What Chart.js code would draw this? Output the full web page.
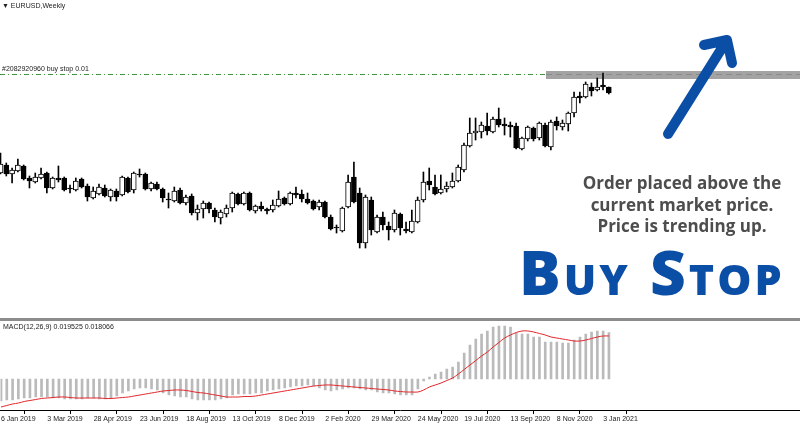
<!DOCTYPE html>
<html><head><meta charset="utf-8">
<script src="https://cdn.jsdelivr.net/npm/chart.js@4.4.1/dist/chart.umd.min.js"></script>
<style>
html,body{margin:0;padding:0;background:#fff;width:800px;height:427px;overflow:hidden;position:relative;font-family:"Liberation Sans",Arial,sans-serif;}
canvas{position:absolute;left:0;}
#pc{top:0;}
#mc{top:322px;}
.sep{position:absolute;left:0;top:318px;width:800px;height:3px;background:#8c8c8c;}
.small{position:absolute;font-size:7px;color:#222;white-space:nowrap;line-height:8px;font-family:"Liberation Sans",Arial,sans-serif;}
#desc{position:absolute;left:562px;top:172px;width:240px;text-align:center;font-family:"Open Sans",sans-serif;font-weight:700;font-size:17px;line-height:21.5px;color:#4d4d4d;white-space:nowrap;}
#big{position:absolute;left:519px;top:240px;font-family:"Open Sans",sans-serif;font-weight:800;font-size:62px;line-height:62px;letter-spacing:3px;color:#0b4ea5;font-variant:small-caps;white-space:nowrap;}
svg{position:absolute;left:0;top:0;}
</style></head>
<body>
<canvas id="pc" width="800" height="318"></canvas>
<div class="sep"></div>
<canvas id="mc" width="800" height="105"></canvas>
<div class="small" style="left:2px;top:2px;">&#9660; EURUSD,Weekly</div>
<div class="small" style="left:2px;top:65px;">#2082920960 buy stop 0.01</div>
<div class="small" style="left:3px;top:323px;">MACD(12,26,9) 0.019525 0.018066</div>
<div id="desc">Order placed above the<br>current market price.<br>Price is trending up.</div>
<div id="big">Buy Stop</div>
<svg width="800" height="427"><path d="M668 134 L727 40 M704 45 L727 40 L732 63" stroke="#0b4ea5" stroke-width="10" stroke-linecap="round" stroke-linejoin="round" fill="none"/></svg>
<script>
// Weekly EURUSD candles, 6 Jan 2019 .. 10 Jan 2021
const open  = [1.139,1.147,1.138,1.141,1.146,1.134,1.130,1.134,1.139,1.124,1.134,1.134,1.124,1.122,1.133,1.126,1.114,1.118,1.124,1.115,1.121,1.117,1.134,1.122,1.138,1.138,1.123,1.128,1.123,1.113,1.111,1.122,1.109,1.116,1.099,1.103,1.109,1.102,1.094,1.098,1.104,1.118,1.108,1.119,1.101,1.106,1.103,1.102,1.106,1.114,1.108,1.119,1.118,1.113,1.111,1.105,1.110,1.095,1.085,1.081,1.105,1.135,1.119,1.069,1.112,1.080,1.095,1.086,1.082,1.098,1.083,1.080,1.090,1.112,1.131,1.125,1.119,1.123,1.125,1.131,1.142,1.166,1.179,1.180,1.186,1.180,1.193,1.188,1.187,1.186,1.163,1.173,1.184,1.174,1.187,1.165,1.191,1.185,1.188,1.199,1.216,1.215,1.225,1.222,1.227,1.225];
const high  = [1.159,1.149,1.144,1.153,1.147,1.136,1.139,1.144,1.140,1.135,1.146,1.135,1.127,1.134,1.134,1.128,1.125,1.128,1.127,1.123,1.123,1.136,1.135,1.140,1.143,1.139,1.130,1.130,1.124,1.119,1.125,1.124,1.117,1.118,1.107,1.111,1.110,1.104,1.102,1.107,1.120,1.119,1.120,1.120,1.107,1.110,1.104,1.112,1.121,1.115,1.120,1.125,1.122,1.119,1.112,1.112,1.111,1.097,1.087,1.105,1.137,1.150,1.124,1.117,1.115,1.097,1.100,1.090,1.102,1.099,1.090,1.102,1.115,1.140,1.144,1.137,1.137,1.130,1.139,1.147,1.169,1.194,1.194,1.190,1.199,1.195,1.204,1.194,1.190,1.189,1.175,1.186,1.185,1.190,1.189,1.192,1.195,1.192,1.200,1.220,1.220,1.230,1.229,1.234,1.239,1.225];
const low   = [1.138,1.136,1.129,1.140,1.132,1.124,1.129,1.133,1.119,1.123,1.130,1.121,1.119,1.121,1.124,1.111,1.113,1.117,1.115,1.111,1.111,1.116,1.119,1.119,1.135,1.122,1.121,1.122,1.110,1.104,1.110,1.108,1.107,1.097,1.092,1.094,1.099,1.090,1.088,1.095,1.100,1.107,1.107,1.101,1.099,1.101,1.098,1.100,1.105,1.107,1.107,1.114,1.110,1.108,1.102,1.102,1.094,1.082,1.079,1.080,1.104,1.109,1.064,1.064,1.077,1.079,1.082,1.072,1.080,1.077,1.079,1.079,1.089,1.110,1.122,1.117,1.118,1.120,1.124,1.130,1.140,1.165,1.172,1.174,1.177,1.179,1.185,1.177,1.175,1.163,1.162,1.171,1.171,1.172,1.165,1.162,1.182,1.182,1.181,1.195,1.209,1.214,1.216,1.221,1.222,1.218];
const close = [1.148,1.138,1.142,1.147,1.133,1.131,1.135,1.138,1.124,1.134,1.132,1.122,1.123,1.131,1.125,1.115,1.121,1.125,1.116,1.122,1.115,1.135,1.120,1.139,1.137,1.123,1.129,1.123,1.114,1.112,1.121,1.109,1.115,1.099,1.103,1.109,1.103,1.095,1.100,1.104,1.119,1.108,1.119,1.102,1.106,1.103,1.101,1.107,1.113,1.108,1.119,1.117,1.113,1.109,1.103,1.110,1.095,1.083,1.084,1.104,1.130,1.110,1.069,1.115,1.082,1.095,1.087,1.082,1.099,1.084,1.081,1.091,1.112,1.130,1.127,1.118,1.123,1.126,1.131,1.145,1.167,1.179,1.181,1.187,1.181,1.193,1.187,1.186,1.185,1.164,1.174,1.185,1.173,1.189,1.166,1.190,1.186,1.189,1.199,1.215,1.214,1.228,1.221,1.225,1.225,1.219];
// MACD(12,26,9): histogram (main) and signal
const macdHist = [-0.00924,-0.00882,-0.00882,-0.0084,-0.00798,-0.00798,-0.00756,-0.00756,-0.00756,-0.00798,-0.00798,-0.0084,-0.0084,-0.0084,-0.0084,-0.00798,-0.00798,-0.0084,-0.0084,-0.00798,-0.00714,-0.00588,-0.00504,-0.0042,-0.00378,-0.00378,-0.0042,-0.00462,-0.00588,-0.00672,-0.00714,-0.00756,-0.00756,-0.0084,-0.00882,-0.00882,-0.00882,-0.00882,-0.0084,-0.00798,-0.00672,-0.0063,-0.0063,-0.0063,-0.00588,-0.00588,-0.00504,-0.00462,-0.0042,-0.00378,-0.00336,-0.00294,-0.00294,-0.00252,-0.00294,-0.00378,-0.00462,-0.00504,-0.00462,-0.0042,-0.00378,-0.00378,-0.0042,-0.00462,-0.00462,-0.00546,-0.00588,-0.00588,-0.0063,-0.00672,-0.00672,-0.00672,-0.0042,-0.00084,0.00084,0.0021,0.00294,0.0042,0.00504,0.00714,0.01092,0.01428,0.0168,0.0189,0.02016,0.02184,0.02226,0.02226,0.02184,0.01932,0.0189,0.0189,0.01764,0.01764,0.01554,0.01554,0.01554,0.01512,0.01512,0.01638,0.01764,0.0189,0.01974,0.02016,0.02016,0.019525];
const macdSignal = [-0.01176,-0.01113,-0.0105,-0.01008,-0.00945,-0.00903,-0.00861,-0.00819,-0.00798,-0.00777,-0.00756,-0.00756,-0.00777,-0.00798,-0.00798,-0.00798,-0.00798,-0.00798,-0.00819,-0.00819,-0.00798,-0.00777,-0.00756,-0.00714,-0.00672,-0.0063,-0.00588,-0.00546,-0.00504,-0.00483,-0.00462,-0.00462,-0.00483,-0.00525,-0.00567,-0.00588,-0.0063,-0.00672,-0.00714,-0.00756,-0.00756,-0.00756,-0.00735,-0.00735,-0.00714,-0.00672,-0.0063,-0.00588,-0.00546,-0.00504,-0.00462,-0.0042,-0.00378,-0.00336,-0.00294,-0.00273,-0.00252,-0.00252,-0.00273,-0.00294,-0.00315,-0.00336,-0.00357,-0.00378,-0.00399,-0.0042,-0.00441,-0.00462,-0.00504,-0.00525,-0.00546,-0.00546,-0.00546,-0.00462,-0.00336,-0.00252,-0.00168,-0.00063,0.00042,0.0021,0.00399,0.00588,0.00777,0.00966,0.01134,0.01344,0.01533,0.01722,0.01848,0.01953,0.02016,0.02016,0.01974,0.01911,0.01848,0.01764,0.01722,0.0168,0.01638,0.01596,0.01596,0.01638,0.01701,0.01764,0.01806,0.018066];
const tickLabels = ["6 Jan 2019","3 Mar 2019","28 Apr 2019","23 Jun 2019","18 Aug 2019","13 Oct 2019","8 Dec 2019","2 Feb 2020","29 Mar 2020","24 May 2020","19 Jul 2020","13 Sep 2020","8 Nov 2020","3 Jan 2021"];
const tickWeeks = [1,9,17,25,33,41,49,57,65,73,81,89,97,105];
const orderPrice = 1.238;

const weekNo = open.map((_, k) => k + 1);
const xMin = 0.914, xMax = 139.0;

const orderLine = {
  id: 'orderLine',
  beforeDatasetsDraw(chart) {
    const ctx = chart.ctx, y = Math.round(chart.scales.y.getPixelForValue(orderPrice)) + 0.5;
    const xs = 546;
    ctx.save();
    ctx.fillStyle = '#a3a3a3';
    ctx.fillRect(xs, y - 3.5, 800 - xs, 8);
    ctx.strokeStyle = '#8a8a8a'; ctx.lineWidth = 1; ctx.setLineDash([6, 4]);
    ctx.beginPath(); ctx.moveTo(xs, y); ctx.lineTo(800, y); ctx.stroke();
    ctx.strokeStyle = '#3c9a3c'; ctx.setLineDash([5, 3, 1, 3]);
    ctx.beginPath(); ctx.moveTo(0, y); ctx.lineTo(xs, y); ctx.stroke();
    ctx.restore();
  }
};

new Chart(document.getElementById('pc'), {
  type: 'bar',
  data: { datasets: [
    { data: weekNo.map((x, k) => ({ x, y: [low[k], high[k]] })), backgroundColor: '#000', barThickness: 1, grouped: false, order: 2 },
    { data: weekNo.map((x, k) => ({ x, y: [Math.min(open[k], close[k]), Math.max(open[k], close[k])] })),
      backgroundColor: weekNo.map((x, k) => close[k] >= open[k] ? '#fff' : '#000'),
      borderColor: '#000', borderWidth: 1, borderSkipped: false, barThickness: 5, grouped: false, order: 1 }
  ]},
  options: {
    responsive: false, animation: false, events: [],
    layout: { padding: 0, autoPadding: false },
    plugins: { legend: { display: false }, tooltip: { enabled: false } },
    scales: {
      x: { type: 'linear', min: xMin, max: xMax, offset: false, display: false },
      y: { type: 'linear', min: 0.994, max: 1.312, display: false }
    }
  },
  plugins: [orderLine]
});

new Chart(document.getElementById('mc'), {
  type: 'bar',
  data: { datasets: [
    { type: 'line', data: weekNo.map((x, k) => ({ x, y: macdSignal[k] })), borderColor: '#e3262a', borderWidth: 1, pointRadius: 0, tension: 0.4, order: 0 },
    { type: 'bar', data: weekNo.map((x, k) => ({ x, y: macdHist[k] })), backgroundColor: '#bababa', barThickness: 2, grouped: false, order: 1 }
  ]},
  options: {
    responsive: false, animation: false, events: [],
    layout: { padding: 0, autoPadding: false },
    plugins: { legend: { display: false }, tooltip: { enabled: false } },
    scales: {
      x: { type: 'linear', min: xMin, max: xMax, offset: false, position: 'bottom',
        afterBuildTicks: ax => { ax.ticks = tickWeeks.map(v => ({ value: v })); },
        afterFit: ax => { ax.height = 17; },
        ticks: { autoSkip: false, maxRotation: 0, minRotation: 0, align: 'start', padding: 1, color: '#222',
          font: { family: 'Liberation Sans', size: 7 }, callback: (v, i) => tickLabels[i] },
        grid: { display: true, drawOnChartArea: false, drawTicks: true, tickLength: 4, color: '#000' },
        border: { display: true, color: '#000', width: 1 }
      },
      y: { type: 'linear', min: -0.01302, max: 0.02394, display: false }
    }
  }
});
</script>
</body></html>
